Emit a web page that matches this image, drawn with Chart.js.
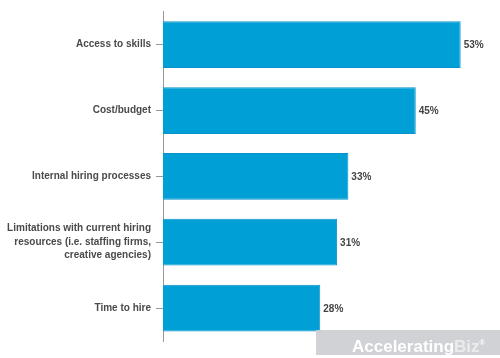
<!DOCTYPE html>
<html><head><meta charset="utf-8">
<script src="https://cdn.jsdelivr.net/npm/chart.js@4"></script>
<style>
html,body{margin:0;padding:0;background:#fff;}
#wrap{position:relative;width:500px;height:358px;}
#wm{position:absolute;left:316px;top:330px;width:184px;height:25px;background:rgba(204,206,209,0.92);color:#fff;font:bold 17px "Liberation Sans",Arial,sans-serif;line-height:25px;padding-left:36px;box-sizing:border-box;white-space:nowrap;}
#wm span{color:#ececec}
</style></head>
<body><div id="wrap"><canvas id="c" width="500" height="358"></canvas>
<div id="wm">Accelerating<span>Biz</span><sup style="font-size:7px">®</sup></div></div>
<script>
const categories = ["Access to skills","Cost/budget","Internal hiring processes",["Limitations with current hiring","resources (i.e. staffing firms,","creative agencies)"],"Time to hire"];
const values = [53,45,33,31,28];

const labelPlugin = {
  id:'vals',
  afterDatasetsDraw(chart){
    const ctx = chart.ctx;
    const meta = chart.getDatasetMeta(0);
    ctx.save();
    ctx.font = 'bold 10px "Liberation Sans", Arial, sans-serif';
    ctx.fillStyle = '#444';
    ctx.textBaseline = 'middle';
    ctx.textAlign = 'left';
    meta.data.forEach((bar,i)=>{
      ctx.fillText(values[i] + '%', bar.x + 3, bar.y + 1);
    });
    ctx.restore();
  }
};

new Chart(document.getElementById('c'),{
  type:'bar',
  data:{labels:categories,datasets:[{data:values,backgroundColor:'#009fd6',borderColor:'#0a93c8',borderWidth:1,barPercentage:0.71,categoryPercentage:1}]},
  options:{
    indexAxis:'y',responsive:false,animation:false,
    layout:{padding:{top:6,bottom:17,right:0,left:0}},
    plugins:{legend:{display:false},tooltip:{enabled:false}},
    scales:{
      x:{display:false,min:0,max:60},
      y:{
        afterFit(s){s.width=163;},
        border:{color:'#999',width:1},
        grid:{display:true,drawOnChartArea:false,offset:false,tickLength:7,color:'#999'},
        ticks:{color:'#4a4a4a',padding:5,font:{family:'"Liberation Sans", Arial, sans-serif',size:10,weight:'bold',lineHeight:1.35}}
      }
    }
  },
  plugins:[labelPlugin]
});
</script></body></html>
